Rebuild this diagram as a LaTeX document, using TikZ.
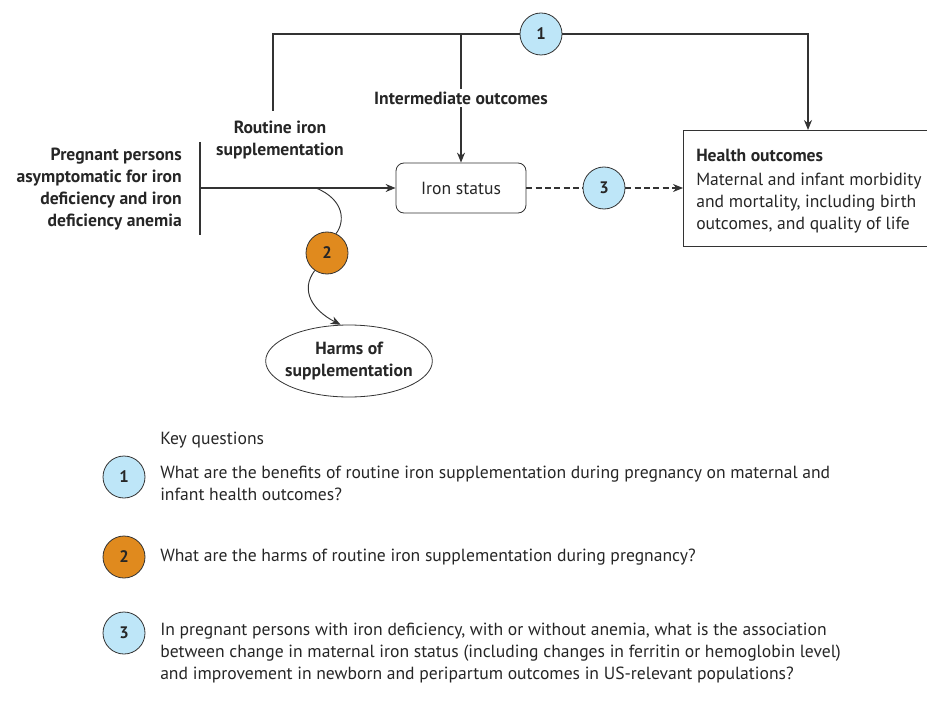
\documentclass[tikz,border=0pt]{standalone}
\usepackage{fontspec}
\setmainfont{PT Sans}
\usetikzlibrary{arrows.meta,shapes.geometric}
\definecolor{lblue}{HTML}{BEE6F8}
\definecolor{orng}{HTML}{E08A1E}
\definecolor{ln}{HTML}{333333}
\tikzset{
  base/.style={font=\fontsize{13.2}{16.5}\selectfont, text=black!85},
  lbl/.style={base, font=\fontsize{13.2}{16.5}\selectfont\bfseries, align=center},
  circ/.style={circle, draw=ln, line width=0.6pt, minimum size=31.5pt, inner sep=0pt, font=\fontsize{12.5}{14}\selectfont\bfseries, text=black!85},
  line/.style={draw=ln, line width=0.9pt},
  arr/.style={line, -{Stealth[length=7.5pt,width=6pt]}},
}
\begin{document}
\begin{tikzpicture}[x=0.75pt,y=-0.75pt]
\useasboundingbox (0,0) rectangle (927,702);
% nodes
\node[circ, fill=lblue] (c1) at (541,34) {1};
\node[lbl, inner sep=2pt] (io) at (461,98) {Intermediate outcomes};
\node[lbl] (ris) at (280,140) {Routine iron\\supplementation};
\node[lbl, align=right, anchor=east, inner sep=0pt] (preg) at (182,189) {Pregnant persons\\asymptomatic for iron\\deficiency and iron\\deficiency anemia};
\node[base, draw=ln, line width=0.6pt, rounded corners=6pt, minimum width=97.5pt, minimum height=37.5pt] (iron) at (461,188) {Iron status};
\node[circ, fill=lblue] (c3) at (604,188) {3};
\node[draw=ln, line width=0.7pt, anchor=north west, minimum width=189pt, minimum height=87pt] (ho) at (683,130) {};
\node[base, anchor=north west, align=left, inner sep=0pt] (hot) at (696,148.5) {\textbf{Health outcomes}\\[1.5pt]Maternal and infant morbidity\\and mortality, including birth\\outcomes, and quality of life};
\node[circ, fill=orng] (c2) at (327,253) {2};
\node[ellipse, draw=ln, line width=0.6pt, lbl, inner xsep=-4pt, inner ysep=0pt, minimum width=125pt, minimum height=54pt] (harms) at (349,361) {Harms of\\supplementation};
% coordinates
\coordinate (tl) at (273,111);
\coordinate (bt) at (200,142);
\coordinate (bb) at (200,235);
\coordinate (bm) at (200,188);
\coordinate (cs) at (316,188);
\coordinate (tm) at (461,34);
\coordinate (hoin) at (808,130);
% connectors
\draw[line] (tl) |- (c1.west);
\draw[arr] (c1.east) -| (hoin);
\draw[line] (tm) -- (io.north);
\draw[arr] (io.south) -- (iron.north);
\draw[line] (bt) -- (bb);
\draw[arr] (bm) -- (iron.west);
\draw[line, dashed, dash pattern=on 4.5pt off 2.5pt] (iron.east) -- (c3.west);
\draw[arr, dashed, dash pattern=on 4.5pt off 2.5pt] (c3.east) -- (ho.west |- c3);
\draw[line, line width=0.7pt] (cs) .. controls (345,200) and (345,222) .. (c2.65);
\draw[arr, line width=0.7pt] (c2.235) .. controls (300,290) and (312,310) .. (harms.103);
% key questions
\node[base, anchor=west, inner sep=0pt] (kq) at (160,440) {Key questions};
\node[circ, fill=lblue] (k1) at (124,477) {1};
\node[circ, fill=orng] (k2) at (124,557) {2};
\node[circ, fill=lblue] (k3) at (124,633) {3};
\node[base, anchor=north west, align=left, inner sep=0pt] (q1) at (160,466) {What are the benefits of routine iron supplementation during pregnancy on maternal and\\infant health outcomes?};
\node[base, anchor=west, inner sep=0pt] (q2) at (160,557) {What are the harms of routine iron supplementation during pregnancy?};
\node[base, anchor=north west, align=left, inner sep=0pt] (q3) at (160,623) {In pregnant persons with iron deficiency, with or without anemia, what is the association\\between change in maternal iron status (including changes in ferritin or hemoglobin level)\\and improvement in newborn and peripartum outcomes in US-relevant populations?};
\end{tikzpicture}
\end{document}
